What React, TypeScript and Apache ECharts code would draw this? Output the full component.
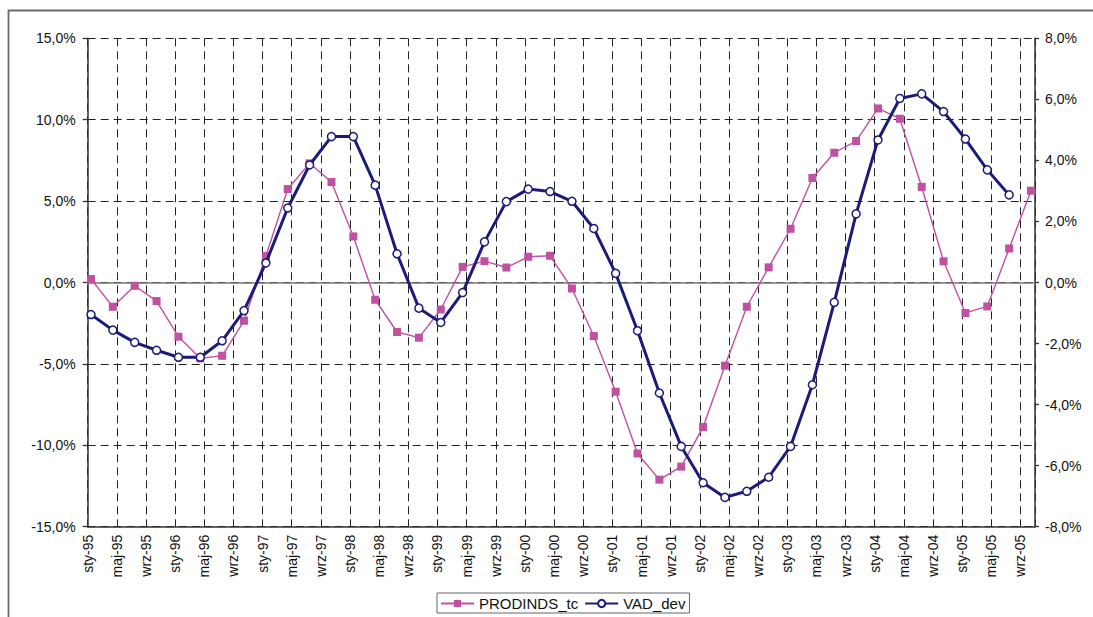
import React, { useEffect, useRef } from "react";
import * as echarts from "echarts";

// Quarterly observations starting January 1995 (each plotted mid-month: Jan, Apr, Jul, Oct)
const START_YEAR = 1995;
const MONTH_ABBR = ["sty", "lut", "mar", "kwi", "maj", "cze", "lip", "sie", "wrz", "paź", "lis", "gru"];

// PRODINDS_tc (left axis, %)
const PRODINDS_tc = [
  0.21, -1.49, -0.2, -1.14, -3.33, -4.66, -4.5, -2.35, 1.63, 5.74, 7.32, 6.17,
  2.83, -1.06, -3.04, -3.39, -1.66, 0.96, 1.31, 0.92, 1.58, 1.64, -0.37, -3.29,
  -6.71, -10.5, -12.11, -11.31, -8.88, -5.11, -1.49, 0.93, 3.3, 6.42, 7.97, 8.69,
  10.69, 10.06, 5.87, 1.3, -1.87, -1.47, 2.09, 5.64,
];

// VAD_dev (right axis, %)
const VAD_dev = [
  -1.05, -1.56, -1.96, -2.22, -2.45, -2.45, -1.91, -0.92, 0.64, 2.44, 3.85, 4.78,
  4.78, 3.19, 0.94, -0.84, -1.31, -0.33, 1.33, 2.65, 3.06, 2.98, 2.66, 1.77,
  0.3, -1.58, -3.62, -5.37, -6.56, -7.04, -6.84, -6.38, -5.37, -3.35, -0.65, 2.25,
  4.67, 6.03, 6.18, 5.6, 4.7, 3.69, 2.87,
];

// axis ranges (months since Jan 1995; percent)
const X_MIN = 0;
const X_MAX = 130; // Nov 2005
const X_INTERVAL = 4;
const LEFT_TICKS = { min: -15, max: 15, interval: 5 };
const RIGHT_TICKS = { min: -8, max: 8, interval: 2 };

const MID_MONTH = 14 / 31;

const toPoints = (vals: number[]) => vals.map((v, i) => [i * 3 + MID_MONTH, v]);

const pctFmt = (v: number) => v.toFixed(1).replace(".", ",") + "%";
const monthFmt = (v: number) => {
  if (v % X_INTERVAL !== 0 || v > 128) return "";
  const y = START_YEAR + Math.floor(v / 12);
  return MONTH_ABBR[v % 12] + "-" + String(y).slice(2);
};

const FONT = "'Liberation Sans', Arial, sans-serif";
const MAGENTA = "#c050a0";
const NAVY = "#1c1c78";
const TEXT = "#111";

export default function App() {
  const ref = useRef<HTMLDivElement>(null);
  useEffect(() => {
    if (!ref.current) return;
    const chart = echarts.init(ref.current, undefined, { renderer: "svg" });
    const gridLeft = 87.7;
    const gridTop = 38.3;
    const gridW = 947.3;
    const gridH = 488.4;
    chart.setOption({
      animation: false,
      backgroundColor: "#ffffff",
      textStyle: { fontFamily: FONT },
      graphic: [
        {
          type: "rect",
          shape: { x: 8.5, y: 10.5, width: 1200, height: 800 },
          style: { fill: "none", stroke: "#6a6a6a", lineWidth: 1.8 },
          silent: true,
          z: 0,
        },
      ],
      grid: { left: gridLeft, top: gridTop, width: gridW, height: gridH, containLabel: false },
      legend: {
        left: 437,
        top: 593,
        padding: [3, 4, 2, 3],
        itemGap: 6,
        itemWidth: 33,
        itemHeight: 9,
        borderColor: "#666",
        borderWidth: 1,
        borderRadius: 0,
        textStyle: { fontFamily: FONT, fontSize: 15, color: TEXT, padding: [0, 0, 0, 0] },
        data: ["PRODINDS_tc", "VAD_dev"],
      },
      xAxis: {
        type: "value",
        min: X_MIN,
        max: X_MAX,
        interval: X_INTERVAL,
        axisLine: { onZero: false, lineStyle: { color: "#333", width: 1.5 } },
        axisTick: { show: false },
        axisLabel: {
          rotate: 90,
          margin: 8,
          fontSize: 14,
          fontFamily: FONT,
          color: TEXT,
          formatter: monthFmt,
          showMaxLabel: false,
        },
        splitLine: { show: true, lineStyle: { color: "#222", width: 1, type: [8, 5] } },
      },
      yAxis: [
        {
          type: "value",
          position: "left",
          ...LEFT_TICKS,
          axisLine: { show: true, lineStyle: { color: "#333", width: 1.5 } },
          axisTick: { show: true, inside: false, length: 5, lineStyle: { color: "#333", width: 1.3 } },
          axisLabel: { margin: 12, fontSize: 14, fontFamily: FONT, color: TEXT, formatter: pctFmt },
          splitLine: { show: true, lineStyle: { color: "#222", width: 1, type: [8, 5] } },
        },
        {
          type: "value",
          position: "right",
          ...RIGHT_TICKS,
          axisLine: { show: true, lineStyle: { color: "#333", width: 1.5 } },
          axisTick: { show: true, inside: false, length: 4, lineStyle: { color: "#333", width: 1.3 } },
          axisLabel: { margin: 10, fontSize: 14, fontFamily: FONT, color: TEXT, formatter: pctFmt },
          splitLine: { show: false },
        },
      ],
      series: [
        {
          name: "PRODINDS_tc",
          type: "line",
          yAxisIndex: 0,
          data: toPoints(PRODINDS_tc),
          symbol: "rect",
          symbolSize: 8,
          itemStyle: { color: MAGENTA, borderColor: MAGENTA, borderWidth: 0 },
          lineStyle: { color: MAGENTA, width: 1.4 },
          z: 3,
          markLine: {
            silent: true,
            symbol: "none",
            label: { show: false },
            lineStyle: { color: "#777", width: 1.5, type: "solid" },
            data: [{ yAxis: 0 }],
            z: 2,
          },
        },
        {
          name: "VAD_dev",
          type: "line",
          yAxisIndex: 1,
          data: toPoints(VAD_dev),
          symbol: "circle",
          symbolSize: 8,
          itemStyle: { color: "#ffffff", borderColor: NAVY, borderWidth: 1.5 },
          lineStyle: { color: NAVY, width: 3 },
          z: 4,
        },
      ],
    });
    return () => chart.dispose();
  }, []);
  return (
    <div
      ref={ref}
      style={{ position: "fixed", left: 0, top: 0, width: 1093, height: 617, background: "#fff" }}
    />
  );
}
